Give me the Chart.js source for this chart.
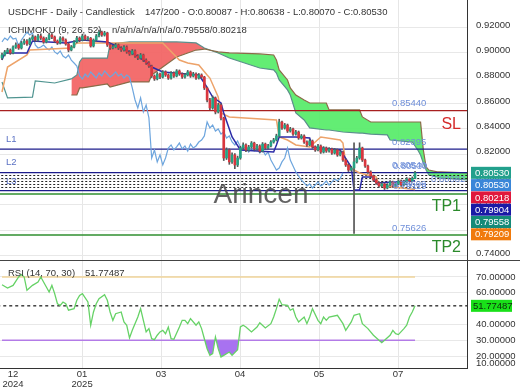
<!DOCTYPE html>
<html>
<head>
<meta charset="utf-8">
<script src="https://cdn.jsdelivr.net/npm/chart.js@4.4.1/dist/chart.umd.min.js"></script>
<style>
  body { margin: 0; background: #fff; }
  #wrap { position: relative; width: 520px; height: 390px; overflow: hidden; }
  #priceChart { position: absolute; left: 0; top: 0; }
  #rsiChart { position: absolute; left: 0; top: 261px; }
  #sep { position: absolute; left: 0; top: 260px; width: 520px; height: 1px; background: #444; }
</style>
</head>
<body>
<div id="wrap">
  <canvas id="priceChart" width="520" height="261"></canvas>
  <canvas id="rsiChart" width="520" height="129"></canvas>
  <div id="sep"></div>
</div>
<script>
// --- candles (daily USDCHF) ---
const opens = [
  0.8960, 0.8983, 0.9007, 0.9022, 0.8999, 0.9046, 0.9062, 0.9038, 0.9078, 0.9093,
  0.9070, 0.9109, 0.9125, 0.9101, 0.9133, 0.9117, 0.9086, 0.9109, 0.9141, 0.9125,
  0.9093, 0.9078, 0.9117, 0.9101, 0.9070, 0.9022, 0.9046, 0.9086, 0.9117, 0.9101,
  0.9133, 0.9109, 0.9115, 0.9054, 0.9101, 0.9133, 0.9164, 0.9141, 0.9157, 0.9062,
  0.9038, 0.9046, 0.9062, 0.9038, 0.9022, 0.9046, 0.9007, 0.8991, 0.9015, 0.8975,
  0.8959, 0.8983, 0.8943, 0.8920, 0.8896, 0.8817, 0.8794, 0.8833, 0.8809, 0.8849,
  0.8825, 0.8801, 0.8841, 0.8817, 0.8857, 0.8833, 0.8809, 0.8825, 0.8849, 0.8817,
  0.8833, 0.8801, 0.8825, 0.8809, 0.8723, 0.8628, 0.8565, 0.8644, 0.8533, 0.8588,
  0.8486, 0.8170, 0.8233, 0.8139, 0.8194, 0.8115, 0.8170, 0.8249, 0.8273, 0.8233,
  0.8257, 0.8288, 0.8241, 0.8265, 0.8225, 0.8280, 0.8249, 0.8265, 0.8296, 0.8312,
  0.8344, 0.8454, 0.8407, 0.8430, 0.8383, 0.8399, 0.8359, 0.8375, 0.8328, 0.8344,
  0.8296, 0.8273, 0.8304, 0.8257, 0.8233, 0.8265, 0.8217, 0.8249, 0.8225, 0.8241,
  0.8209, 0.8233, 0.8194, 0.8217, 0.8154, 0.8115, 0.8075, 0.8091, 0.8139, 0.8170,
  0.8249, 0.8154, 0.8107, 0.8060, 0.8028, 0.7996, 0.7973, 0.7949, 0.7965, 0.7933,
  0.7957, 0.7981, 0.7949, 0.7965, 0.7988, 0.7957, 0.7981, 0.8004, 0.7988, 0.80087
];
const highs = [
  0.8998, 0.9019, 0.9036, 0.9031, 0.9055, 0.9078, 0.9070, 0.9090, 0.9108, 0.9104,
  0.9118, 0.9140, 0.9133, 0.9146, 0.9150, 0.9126, 0.9121, 0.9155, 0.9152, 0.9133,
  0.9102, 0.9128, 0.9127, 0.9110, 0.9079, 0.9058, 0.9097, 0.9130, 0.9126, 0.9147,
  0.9142, 0.9128, 0.9122, 0.9110, 0.9145, 0.9180, 0.9172, 0.9170, 0.9163, 0.9071,
  0.9060, 0.9075, 0.9070, 0.9049, 0.9058, 0.9055, 0.9018, 0.9027, 0.9023, 0.8986,
  0.8995, 0.8990, 0.8952, 0.8930, 0.8903, 0.8826, 0.8845, 0.8841, 0.8860, 0.8858,
  0.8834, 0.8853, 0.8850, 0.8868, 0.8865, 0.8842, 0.8838, 0.8861, 0.8857, 0.8846,
  0.8842, 0.8837, 0.8834, 0.8815, 0.8730, 0.8640, 0.8660, 0.8652, 0.8602, 0.8597,
  0.8492, 0.8250, 0.8242, 0.8210, 0.8205, 0.8185, 0.8262, 0.8290, 0.8282, 0.8270,
  0.8300, 0.8295, 0.8278, 0.8274, 0.8292, 0.8288, 0.8277, 0.8308, 0.8325, 0.8358,
  0.8476, 0.8462, 0.8443, 0.8438, 0.8412, 0.8406, 0.8388, 0.8383, 0.8356, 0.8352,
  0.8305, 0.8316, 0.8312, 0.8266, 0.8277, 0.8273, 0.8260, 0.8257, 0.8253, 0.8249,
  0.8245, 0.8241, 0.8228, 0.8224, 0.8163, 0.8124, 0.8104, 0.8290, 0.8183, 0.8290,
  0.8256, 0.8162, 0.8115, 0.8069, 0.8036, 0.8005, 0.7982, 0.7976, 0.7972, 0.7968,
  0.7992, 0.7988, 0.7977, 0.7999, 0.7995, 0.7993, 0.8016, 0.8012, 0.8021, 0.80638
];
const lows = [
  0.8948, 0.8975, 0.8995, 0.8988, 0.8992, 0.9035, 0.9027, 0.9030, 0.9066, 0.9058,
  0.9062, 0.9100, 0.9090, 0.9093, 0.9105, 0.9075, 0.9078, 0.9101, 0.9112, 0.9082,
  0.9066, 0.9070, 0.9090, 0.9060, 0.9008, 0.9015, 0.9038, 0.9078, 0.9088, 0.9094,
  0.9098, 0.9097, 0.9045, 0.9046, 0.9092, 0.9125, 0.9130, 0.9132, 0.9050, 0.9027,
  0.9030, 0.9039, 0.9026, 0.9011, 0.9013, 0.8996, 0.8980, 0.8984, 0.8964, 0.8946,
  0.8950, 0.8931, 0.8908, 0.8884, 0.8805, 0.8782, 0.8786, 0.8797, 0.8801, 0.8814,
  0.8790, 0.8793, 0.8806, 0.8810, 0.8822, 0.8798, 0.8800, 0.8817, 0.8806, 0.8809,
  0.8790, 0.8793, 0.8798, 0.8710, 0.8612, 0.8552, 0.8555, 0.8518, 0.8525, 0.8470,
  0.8150, 0.8158, 0.8120, 0.8128, 0.8085, 0.8102, 0.8160, 0.8238, 0.8220, 0.8225,
  0.8248, 0.8230, 0.8232, 0.8213, 0.8217, 0.8238, 0.8240, 0.8258, 0.8287, 0.8304,
  0.8335, 0.8395, 0.8398, 0.8371, 0.8374, 0.8348, 0.8350, 0.8317, 0.8319, 0.8285,
  0.8262, 0.8266, 0.8246, 0.8222, 0.8225, 0.8206, 0.8209, 0.8214, 0.8216, 0.8198,
  0.8201, 0.8183, 0.8186, 0.8142, 0.8103, 0.8063, 0.8066, 0.7575, 0.8130, 0.8160,
  0.8142, 0.8096, 0.8048, 0.8016, 0.7984, 0.7962, 0.7937, 0.7940, 0.7921, 0.7926,
  0.7950, 0.7938, 0.7941, 0.7958, 0.7946, 0.7950, 0.7973, 0.7978, 0.7980, 0.80070
];
const closes = [
  0.8983, 0.9007, 0.9022, 0.8999, 0.9046, 0.9062, 0.9038, 0.9078, 0.9093, 0.9070,
  0.9109, 0.9125, 0.9101, 0.9133, 0.9117, 0.9086, 0.9109, 0.9141, 0.9125, 0.9093,
  0.9078, 0.9117, 0.9101, 0.9070, 0.9022, 0.9046, 0.9086, 0.9117, 0.9101, 0.9133,
  0.9109, 0.9115, 0.9054, 0.9101, 0.9133, 0.9164, 0.9141, 0.9157, 0.9062, 0.9038,
  0.9046, 0.9062, 0.9038, 0.9022, 0.9046, 0.9007, 0.8991, 0.9015, 0.8975, 0.8959,
  0.8983, 0.8943, 0.8920, 0.8896, 0.8817, 0.8794, 0.8833, 0.8809, 0.8849, 0.8825,
  0.8801, 0.8841, 0.8817, 0.8857, 0.8833, 0.8809, 0.8825, 0.8849, 0.8817, 0.8833,
  0.8801, 0.8825, 0.8809, 0.8723, 0.8628, 0.8565, 0.8644, 0.8533, 0.8588, 0.8486,
  0.8170, 0.8233, 0.8139, 0.8194, 0.8115, 0.8170, 0.8249, 0.8273, 0.8233, 0.8257,
  0.8288, 0.8241, 0.8265, 0.8225, 0.8280, 0.8249, 0.8265, 0.8296, 0.8312, 0.8344,
  0.8454, 0.8407, 0.8430, 0.8383, 0.8399, 0.8359, 0.8375, 0.8328, 0.8344, 0.8296,
  0.8273, 0.8304, 0.8257, 0.8233, 0.8265, 0.8217, 0.8249, 0.8225, 0.8241, 0.8209,
  0.8233, 0.8194, 0.8217, 0.8154, 0.8115, 0.8075, 0.8091, 0.8139, 0.8170, 0.8249,
  0.8154, 0.8107, 0.8060, 0.8028, 0.7996, 0.7973, 0.7949, 0.7965, 0.7933, 0.7957,
  0.7981, 0.7949, 0.7965, 0.7988, 0.7957, 0.7981, 0.8004, 0.7988, 0.8009, 0.80530
];

// --- ichimoku lines (bar index / price) ---
const tenkanIdx = [0, 1, 9, 11, 23, 29, 38, 47, 52, 54, 58, 71, 73, 76, 79, 80, 83, 86, 98, 99, 100, 106, 111, 112, 122, 126, 127, 129, 130, 134, 135, 149];
const tenkanVal = [0.8943, 0.8999, 0.8999, 0.9093, 0.9078, 0.9101, 0.9086, 0.8999, 0.8928, 0.8888, 0.8849, 0.8825, 0.8762, 0.8651, 0.8604, 0.8525, 0.8336, 0.8233, 0.8217, 0.8273, 0.8336, 0.8336, 0.8328, 0.8257, 0.8233, 0.8099, 0.7917, 0.7917, 0.8020, 0.8020, 0.7973, 0.79904];
const kijunIdx = [0, 2, 9, 10, 25, 27, 58, 64, 67, 71, 74, 75, 78, 79, 82, 99, 100, 103, 106, 111, 115, 122, 123, 124, 127, 129, 135, 136, 141, 149];
const kijunVal = [0.8691, 0.8888, 0.8983, 0.9022, 0.9038, 0.9078, 0.9078, 0.8943, 0.8920, 0.8904, 0.8825, 0.8801, 0.8651, 0.8525, 0.8494, 0.8470, 0.8336, 0.8312, 0.8273, 0.8257, 0.8336, 0.8312, 0.8288, 0.8130, 0.8075, 0.8052, 0.8020, 0.7957, 0.7941, 0.79209];
const spanAEarlyIdx = [0, 2, 11, 12, 19, 25];
const spanAEarlyVal = [0.8770, 0.8644, 0.8651, 0.8778, 0.8762, 0.8794];
const cloudIdx = [25, 27, 28, 29, 38, 39, 46, 53, 54, 59, 63, 70, 73, 78, 82, 93, 98, 99, 100, 103, 104, 106, 109, 111, 117, 118, 123, 129, 130, 133, 139, 140, 148, 150, 151, 152, 153, 154, 157, 158, 168];
const spanA = [0.8794, 0.8825, 0.8928, 0.8959, 0.8959, 0.9070, 0.9086, 0.9086, 0.9086, 0.9086, 0.9086, 0.9078, 0.9038, 0.8999, 0.8959, 0.8880, 0.8865, 0.8841, 0.8786, 0.8707, 0.8667, 0.8525, 0.8470, 0.8407, 0.8391, 0.8391, 0.8375, 0.8367, 0.8367, 0.8359, 0.8352, 0.8312, 0.8296, 0.8233, 0.8194, 0.8131, 0.8075, 0.8036, 0.8020, 0.8012, 0.7996];
const spanB = [0.8667, 0.8667, 0.8723, 0.8723, 0.8754, 0.8730, 0.8770, 0.8770, 0.8825, 0.8904, 0.8967, 0.9022, 0.9030, 0.9007, 0.8999, 0.8991, 0.8983, 0.8943, 0.8865, 0.8786, 0.8723, 0.8667, 0.8628, 0.8604, 0.8604, 0.8549, 0.8549, 0.8549, 0.8494, 0.8454, 0.8454, 0.8454, 0.8454, 0.8454, 0.8454, 0.8233, 0.8099, 0.8075, 0.8060, 0.8060, 0.8052];
const CHIKOU_SHIFT = 26;

// --- horizontal levels ---
const slLevel = 0.85440;
const l1Level = 0.82395;
const l2Level = 0.80540;
const l3Level = 0.79119;
const dottedLevels = [0.80319, 0.80082, 0.79845, 0.79609, 0.79372];
const tp1Level = 0.78859;
const tp2Level = 0.75626;

// --- axis tags ---
const tagValues = [0.80530, 0.80530, 0.80218, 0.79904, 0.79558, 0.79209];
const tagColors = ['#22a08c', '#3a86d8', '#e0183c', '#1a1aa6', '#158a78', '#f07a0c'];

// --- axes ---
const priceTicks = [0.74, 0.76, 0.78, 0.80, 0.82, 0.84, 0.86, 0.88, 0.90, 0.92];
const dateTickIdx = [4, 28.9, 57.4, 85.9, 114.4, 142.9];
const dateLabels = [['12', '2024'], ['01', '2025'], ['03'], ['04'], ['05'], ['07']];
const X_MIN = -0.72, X_MAX = 167.75;

// --- RSI (14) ---
const rsiIdx = [0, 2, 4, 6, 7, 8, 9, 11, 13, 14, 16, 17, 18, 19, 20, 21, 22, 23, 24, 26, 27, 28, 29, 31, 32, 33, 34, 35, 37, 38, 39, 40, 41, 43, 44, 45, 46, 47, 49, 50, 51, 52, 53, 54, 55, 56, 57, 58, 59, 60, 61, 62, 64, 65, 66, 67, 68, 70, 71, 72, 73, 74, 75, 76, 77, 78, 79, 80, 82, 83, 85, 86, 87, 88, 90, 92, 93, 95, 97, 98, 99, 100, 101, 103, 104, 105, 106, 107, 109, 110, 111, 112, 114, 115, 116, 117, 118, 121, 123, 124, 126, 127, 129, 130, 132, 134, 136, 137, 138, 140, 141, 142, 143, 145, 146, 147, 148, 149];
const rsiVal = [65.1, 63.0, 64.7, 70.0, 71.5, 70.0, 61.6, 64.7, 66.8, 70.0, 63.7, 60.5, 64.7, 59.5, 53.1, 52.1, 54.2, 53.1, 49.0, 50.0, 55.3, 58.4, 59.5, 54.2, 39.5, 47.9, 53.1, 56.3, 58.8, 55.3, 47.9, 42.6, 46.8, 47.9, 41.6, 39.5, 31.5, 36.3, 44.7, 50.0, 42.6, 35.3, 37.4, 31.0, 30.4, 33.2, 35.3, 36.3, 34.2, 38.4, 31.0, 30.6, 38.4, 42.6, 42.6, 40.5, 43.7, 39.5, 41.6, 37.4, 31.0, 24.7, 20.5, 21.6, 32.1, 24.7, 19.5, 20.5, 22.6, 20.5, 24.0, 38.4, 39.5, 38.4, 35.3, 38.4, 41.1, 37.8, 40.5, 44.7, 50.0, 55.9, 52.5, 52.1, 49.0, 50.0, 44.7, 41.6, 44.7, 40.5, 44.7, 50.0, 42.6, 40.5, 44.7, 42.6, 44.7, 45.8, 40.5, 36.3, 41.6, 45.8, 46.8, 40.5, 37.4, 33.2, 30.0, 28.5, 30.0, 33.2, 36.3, 34.2, 33.6, 37.4, 39.5, 44.7, 47.9, 51.77487];
const rsiUpper = 70, rsiLower = 30;
const rsiTicks = [20, 30, 40, 60, 70];

const FONT = "'Liberation Sans', Arial, sans-serif";
const UP = '#24a283', DOWN = '#d9363e', WICK = '#555';

function pts(idx, vals) { return idx.map((x, k) => ({ x, y: vals[k] })); }
function hline(v) { return [{ x: X_MIN - 1, y: v }, { x: X_MAX + 1, y: v }]; }
function lineDs(data, color, width, order, extra) {
  return Object.assign({ type: 'line', data, borderColor: color, borderWidth: width, pointRadius: 0, tension: 0, fill: false, order, clip: 0 }, extra || {});
}
// keep the plot area flush with the canvas edges
function noPad(s) { s.paddingTop = 0; s.paddingBottom = 0; s.paddingLeft = 0; s.paddingRight = 0; }

const last = closes.length - 1;

const priceDatasets = [
  lineDs(pts(cloudIdx, spanB), '#8a6b48', 1.2, 9),
  lineDs(pts(cloudIdx, spanA), '#5b8f8c', 1.2, 10, { fill: { target: '-1', above: 'rgba(242,98,98,0.92)', below: 'rgba(86,236,104,0.92)' } }),
  lineDs(pts(spanAEarlyIdx, spanAEarlyVal), '#4f9490', 1.2, 9),
  lineDs(hline(slLevel), '#a82020', 1.2, 8),
  lineDs(hline(l1Level), '#1c1c8c', 1.3, 8),
  lineDs(hline(l2Level), '#1c1c8c', 1.3, 8),
  ...dottedLevels.map(v => lineDs(hline(v), '#222', 1, 8, { borderDash: [2, 2] })),
  lineDs(hline(l3Level), '#1c1c8c', 1.3, 8),
  lineDs(hline(tp1Level), '#2f8f2f', 1.5, 8),
  lineDs(hline(tp2Level), '#2f8f2f', 1.5, 8),
  lineDs(closes.map((c, i) => ({ x: i - CHIKOU_SHIFT, y: c })).filter(p => p.x >= 0), '#6ea6de', 1.2, 6),
  lineDs(pts(kijunIdx, kijunVal), '#eda36a', 1.5, 5),
  lineDs(pts(tenkanIdx, tenkanVal), '#2b2ba8', 1.5, 4),
  { type: 'bar', data: closes.map((c, i) => ({ x: i, y: [lows[i], highs[i]] })), backgroundColor: WICK, barThickness: 1, grouped: false, borderWidth: 0, order: 2 },
  { type: 'bar', data: closes.map((c, i) => ({ x: i, y: [opens[i], c] })), backgroundColor: closes.map((c, i) => c >= opens[i] ? UP : DOWN), barThickness: 2, minBarLength: 1, grouped: false, borderWidth: 0, order: 1 }
];

const pricePlugin = {
  id: 'priceText',
  afterDatasetsDraw(chart) {
    const ctx = chart.ctx;
    ctx.save();
    ctx.font = `28px ${FONT}`;
    ctx.fillStyle = 'rgba(72,72,72,0.85)';
    ctx.textAlign = 'center';
    ctx.textBaseline = 'alphabetic';
    ctx.fillText('Arincen', 261, 203);
    ctx.restore();
  },
  afterDraw(chart) {
    const ctx = chart.ctx, y = chart.scales.y;
    const py = v => y.getPixelForValue(v);
    ctx.save();
    ctx.textBaseline = 'middle';
    ctx.textAlign = 'left';
    ctx.font = `9.5px ${FONT}`;
    ctx.fillStyle = '#333';
    ctx.fillText('USDCHF - Daily - Candlestick', 8, 12.5);
    ctx.fillText(`147/200 - O:${opens[last].toFixed(5)} - H:${highs[last].toFixed(5)} - L:${lows[last].toFixed(5)} - C:${closes[last].toFixed(5)}`, 145, 12.5);
    ctx.fillText('ICHIMOKU (9, 26, 52)', 8, 30);
    ctx.fillText(`n/a/n/a/n/a/n/a/${tagValues[4].toFixed(5)}/${tagValues[2].toFixed(5)}`, 112, 30);

    // level names on the left
    ctx.fillStyle = '#5b72c4';
    ctx.fillText('L1', 6, py(l1Level) - 10);
    ctx.fillText('L2', 6, py(l2Level) - 10);
    ctx.fillText('L3', 6, py(l3Level) - 9);

    // level prices
    ctx.fillStyle = '#6f8fd9';
    ctx.fillText(slLevel.toFixed(5), 392, py(slLevel) - 7);
    ctx.fillText(l1Level.toFixed(5), 392, py(l1Level) - 7);
    ctx.fillText(l2Level.toFixed(5), 392, py(l2Level) - 7);
    ctx.fillText(tagValues[0].toFixed(5), 393, py(l2Level) - 6);
    ctx.fillText(dottedLevels[3].toFixed(5), 392, py(dottedLevels[3]));
    ctx.fillText(l3Level.toFixed(5), 393, py(l3Level) - 4);
    ctx.fillText(dottedLevels[1].toFixed(5), 431, py(dottedLevels[1]) + 1);
    ctx.fillText(tp2Level.toFixed(5), 392, py(tp2Level) - 7);

    // SL / TP names
    ctx.font = `16px ${FONT}`;
    ctx.textAlign = 'right';
    ctx.fillStyle = '#d42a2a';
    ctx.fillText('SL', 461, py(slLevel) + 13.5);
    ctx.fillStyle = '#2a8a2a';
    ctx.fillText('TP1', 461, py(tp1Level) + 13);
    ctx.fillText('TP2', 461, py(tp2Level) + 13);

    // value tags on the price axis
    ctx.font = `9.5px ${FONT}`;
    ctx.textAlign = 'left';
    let prev = -Infinity;
    tagValues.forEach((v, k) => {
      const cy = Math.max(py(v), prev + 12.3);
      prev = cy;
      ctx.fillStyle = tagColors[k];
      ctx.fillRect(471, cy - 6, 40, 12);
      ctx.fillStyle = '#fff';
      ctx.fillText(v.toFixed(5), 475, cy + 0.5);
    });
    ctx.restore();
  }
};

new Chart(document.getElementById('priceChart'), {
  type: 'line',
  data: { datasets: priceDatasets },
  options: {
    responsive: false,
    animation: false,
    devicePixelRatio: 1,
    events: [],
    layout: { padding: 0, autoPadding: false },
    plugins: { legend: { display: false }, tooltip: { enabled: false } },
    scales: {
      x: {
        type: 'linear', min: X_MIN, max: X_MAX, offset: false,
        afterBuildTicks: s => { s.ticks = dateTickIdx.map(v => ({ value: v })); },
        afterFit: s => { s.height = 0; noPad(s); },
        ticks: { display: false },
        border: { display: false },
        grid: { drawTicks: false, offset: false, color: c => c.index === 0 ? 'rgba(0,0,0,0)' : '#e6e6e6' }
      },
      y: {
        position: 'right', min: 0.7357, max: 0.9417,
        afterBuildTicks: s => { s.ticks = priceTicks.map(v => ({ value: v })); },
        afterFit: s => { s.width = 53; noPad(s); },
        ticks: { padding: 9, labelOffset: -2.5, color: '#333', font: { family: FONT, size: 9.5 }, callback: v => v.toFixed(5) },
        border: { display: true, color: '#333', width: 1 },
        grid: { drawTicks: false, color: '#e8e8e8' }
      }
    }
  },
  plugins: [pricePlugin]
});

const rsiPlugin = {
  id: 'rsiText',
  afterDraw(chart) {
    const ctx = chart.ctx, y = chart.scales.y, area = chart.chartArea;
    ctx.save();
    ctx.textBaseline = 'middle';
    ctx.textAlign = 'left';
    ctx.font = `9.5px ${FONT}`;
    ctx.fillStyle = '#333';
    ctx.fillText('RSI (14, 70, 30)', 8, 12.5);
    ctx.fillText(rsiVal[rsiVal.length - 1].toFixed(5), 85, 12.5);
    // clamped bottom label
    ctx.fillText((10).toFixed(5), 476, area.bottom - 5);
    // last value tag
    const cy = y.getPixelForValue(rsiVal[rsiVal.length - 1]);
    ctx.fillStyle = '#19e019';
    ctx.fillRect(471, cy - 6, 41, 12);
    ctx.fillStyle = '#0c2c0c';
    ctx.fillText(rsiVal[rsiVal.length - 1].toFixed(5), 473, cy + 0.5);
    ctx.restore();
  }
};

new Chart(document.getElementById('rsiChart'), {
  type: 'line',
  data: {
    datasets: [
      lineDs(hline(rsiVal[rsiVal.length - 1]), '#111', 1.2, 5, { borderDash: [3, 3] }),
      lineDs([{ x: 0, y: rsiUpper }, { x: last, y: rsiUpper }], '#f0d49a', 1.5, 4),
      lineDs([{ x: 0, y: rsiLower }, { x: last, y: rsiLower }], '#b57ee6', 1.5, 4),
      lineDs(pts(rsiIdx, rsiVal), '#66d266', 1.3, 1, { fill: { target: { value: rsiLower }, above: 'rgba(0,0,0,0)', below: '#a872f0' } })
    ]
  },
  options: {
    responsive: false,
    animation: false,
    devicePixelRatio: 1,
    events: [],
    layout: { padding: 0, autoPadding: false },
    plugins: { legend: { display: false }, tooltip: { enabled: false } },
    scales: {
      x: {
        type: 'linear', min: X_MIN, max: X_MAX, offset: false,
        afterBuildTicks: s => { s.ticks = dateTickIdx.map(v => ({ value: v })); },
        afterFit: s => { s.height = 22; noPad(s); },
        ticks: {
          padding: 2, color: '#333', font: { family: FONT, size: 9.5, lineHeight: 1 }, maxRotation: 0,
          callback: (v, i) => dateLabels[i]
        },
        border: { display: true, color: '#333', width: 1 },
        grid: { drawTicks: false, offset: false, color: c => c.index === 0 ? 'rgba(0,0,0,0)' : '#e6e6e6' }
      },
      y: {
        position: 'right', min: 12.5, max: 80.1,
        afterBuildTicks: s => { s.ticks = rsiTicks.map(v => ({ value: v })); },
        afterFit: s => { s.width = 53; noPad(s); },
        ticks: { padding: 9, color: '#333', font: { family: FONT, size: 9.5 }, callback: v => v.toFixed(5) },
        border: { display: true, color: '#333', width: 1 },
        grid: { drawTicks: false, color: '#e8e8e8' }
      }
    }
  },
  plugins: [rsiPlugin]
});
</script>
</body>
</html>
